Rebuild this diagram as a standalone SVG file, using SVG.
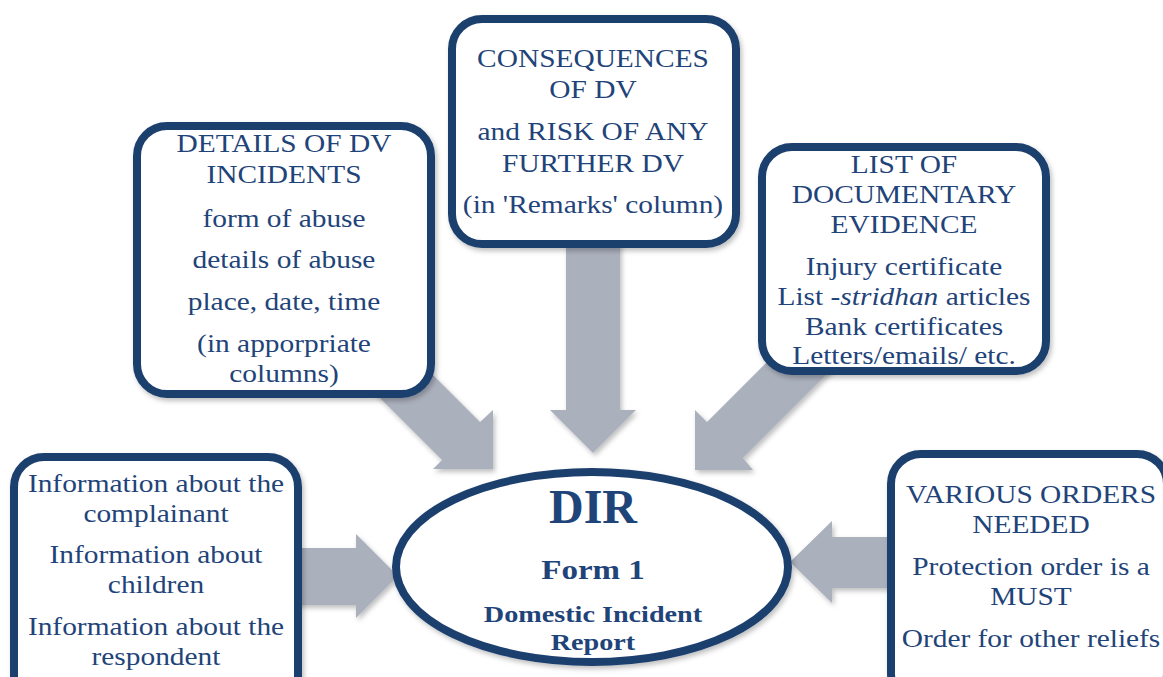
<svg xmlns="http://www.w3.org/2000/svg" width="1163" height="677" viewBox="0 0 1163 677">
  <defs>
    <filter id="shadow" x="-10%" y="-10%" width="130%" height="130%">
      <feDropShadow dx="2" dy="3" stdDeviation="2.5" flood-color="#000" flood-opacity="0.25"/>
    </filter>
    <style>
      .box { fill: #ffffff; stroke: #1e3f6e; stroke-width: 8; filter: url(#shadow); }
      .arrow { fill: #abb0bd; filter: url(#shadow); }
      .t { font-family: "Liberation Serif", "Times New Roman", serif; font-size: 24.5px; fill: #1f4479; text-anchor: middle; }
      .b { font-family: "Liberation Serif", "Times New Roman", serif; font-weight: bold; fill: #1f4479; text-anchor: middle; }
    </style>
  </defs>

  <rect width="1163" height="677" fill="#ffffff"/>

  <!-- block arrows feeding the central report -->
  <g id="connectors">
    <polygon class="arrow" points="420,362 480,422 493,410 493,469 433,469 442,460 370,388"/>
    <polygon class="arrow" points="566,240 620,240 620,410 636,410 593,453 550,410 566,410"/>
    <polygon class="arrow" points="775,354 707,422 695,410 695,470 753,470 743,458 845,356"/>
    <polygon class="arrow" points="290,548 356,548 356,534 398,576 356,618 356,605 290,605"/>
    <polygon class="arrow" points="900,537 832,537 832,521 790,562 832,603 832,588 900,588"/>
  </g>

  <g id="details">
    <rect class="box" x="137" y="126" width="294" height="268" rx="30"/>
    <g transform="translate(284 0) scale(1.2 1)">
      <text class="t" x="0" y="152">DETAILS OF DV</text>
      <text class="t" x="0" y="183">INCIDENTS</text>
      <text class="t" x="0" y="227">form of abuse</text>
      <text class="t" x="0" y="268">details of abuse</text>
      <text class="t" x="0" y="310">place, date, time</text>
      <text class="t" x="0" y="352">(in apporpriate</text>
      <text class="t" x="0" y="382">columns)</text>
    </g>
  </g>

  <g id="consequences">
    <rect class="box" x="452" y="19" width="284" height="225" rx="30"/>
    <g transform="translate(593 0) scale(1.2 1)">
      <text class="t" x="0" y="67">CONSEQUENCES</text>
      <text class="t" x="0" y="98">OF DV</text>
      <text class="t" x="0" y="140">and RISK OF ANY</text>
      <text class="t" x="0" y="172">FURTHER DV</text>
      <text class="t" x="0" y="213">(in 'Remarks' column)</text>
    </g>
  </g>

  <g id="evidence">
    <rect class="box" x="762" y="147" width="284" height="224" rx="30"/>
    <g transform="translate(904 0) scale(1.2 1)">
      <text class="t" x="0" y="173">LIST OF</text>
      <text class="t" x="0" y="203">DOCUMENTARY</text>
      <text class="t" x="0" y="233">EVIDENCE</text>
      <text class="t" x="0" y="275">Injury certificate</text>
      <text class="t" x="0" y="305">List -<tspan font-style="italic">stridhan</tspan> articles</text>
      <text class="t" x="0" y="335">Bank certificates</text>
      <text class="t" x="0" y="364">Letters/emails/ etc.</text>
    </g>
  </g>

  <g id="information">
    <rect class="box" x="14" y="457" width="284" height="250" rx="30"/>
    <g transform="translate(156 0) scale(1.2 1)">
      <text class="t" x="0" y="492">Information about the</text>
      <text class="t" x="0" y="522">complainant</text>
      <text class="t" x="0" y="563">Information about</text>
      <text class="t" x="0" y="593">children</text>
      <text class="t" x="0" y="635">Information about the</text>
      <text class="t" x="0" y="665">respondent</text>
    </g>
  </g>

  <g id="orders">
    <rect class="box" x="891" y="454" width="276" height="250" rx="30"/>
    <g transform="translate(1031 0) scale(1.2 1)">
      <text class="t" x="0" y="503">VARIOUS ORDERS</text>
      <text class="t" x="0" y="533">NEEDED</text>
      <text class="t" x="0" y="575">Protection order is a</text>
      <text class="t" x="0" y="605">MUST</text>
      <text class="t" x="0" y="647">Order for other reliefs</text>
    </g>
  </g>

  <g id="dir">
    <ellipse class="box" cx="592" cy="567" rx="196" ry="95"/>
    <text class="b" x="593" y="523" font-size="48">DIR</text>
    <g transform="translate(593 0) scale(1.2 1)">
      <text class="b" x="0" y="579" font-size="27.5">Form 1</text>
      <text class="b" x="0" y="622" font-size="23.5">Domestic Incident</text>
      <text class="b" x="0" y="650" font-size="23.5">Report</text>
    </g>
  </g>
</svg>
